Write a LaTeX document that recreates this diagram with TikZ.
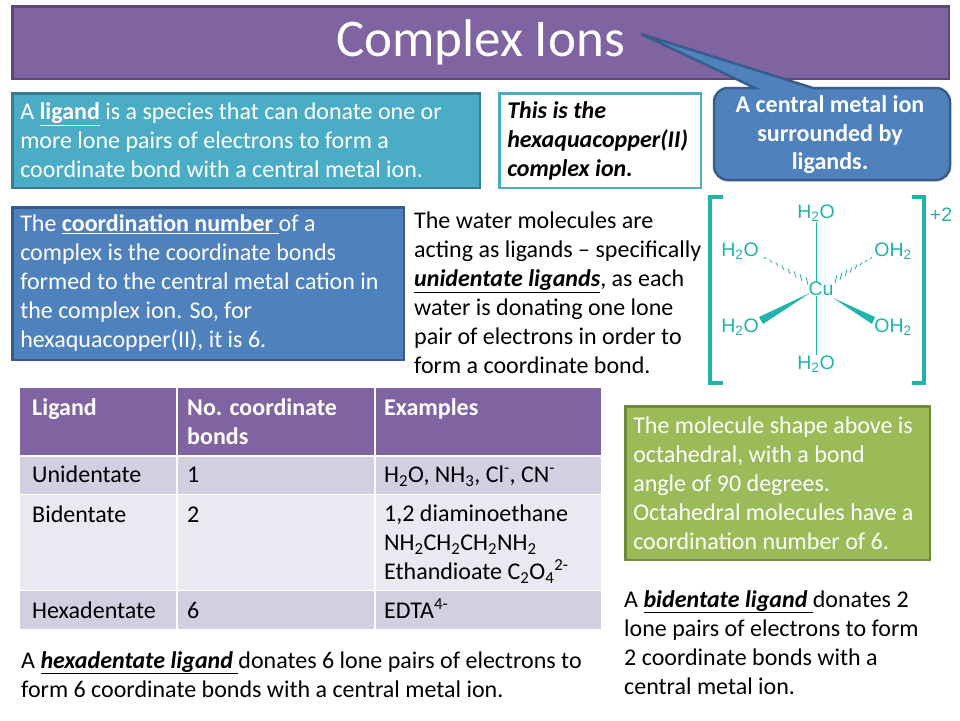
\documentclass[tikz,border=0pt]{standalone}
\usepackage{fontspec}
\setmainfont{Carlito}
\newfontfamily\molfont{Liberation Sans}
\newcommand{\lowtext}[1]{\textsubscript{#1}}
\newcommand{\hightext}[1]{\textsuperscript{#1}}
\newcommand{\keyterm}[1]{\underline{\textbf{\textit{#1}}}}
\definecolor{titlepurple}{HTML}{8064A2}
\definecolor{titleedge}{HTML}{5C4776}
\definecolor{tealfill}{HTML}{4BACC6}
\definecolor{tealedge}{HTML}{357D91}
\definecolor{bluefill}{HTML}{4F81BD}
\definecolor{blueedge}{HTML}{385D8A}
\definecolor{greenfill}{HTML}{9BBB59}
\definecolor{greenedge}{HTML}{71893F}
\definecolor{rowdark}{HTML}{D3CFE0}
\definecolor{rowlight}{HTML}{EAE8F0}
\definecolor{moltint}{HTML}{1FB3AC}
\tikzset{
  panel/.style={draw,line width=2.5pt,anchor=north west,align=flush left,inner xsep=8pt,inner ysep=0pt,
    font=\fontsize{24}{29}\selectfont,execute at begin node=\strut,execute at end node={\par\vspace{3.5pt}}},
  plain/.style={anchor=north west,align=left,inner sep=0pt,
    font=\fontsize{24}{29}\selectfont,execute at begin node=\strut},
  headcell/.style={plain,text=white,font=\fontsize{24}{29}\selectfont\bfseries},
  moltext/.style={text=moltint,inner sep=0pt,font=\fontsize{19.5}{22}\molfont},
  bond/.style={draw=moltint,line width=0.8pt}
}
\begin{document}
\begin{tikzpicture}[x=1pt,y=-1pt]
\useasboundingbox (0,0) rectangle (960,720);
\fill[white] (0,0) rectangle (960,720);

\node[draw=titleedge,fill=titlepurple,line width=2.5pt,anchor=north west,inner sep=0pt,text=white,minimum width=936.5pt,minimum height=72.5pt,
  font=\fontsize{53}{55}\selectfont] (title) at (11,5) {\raisebox{-9pt}{Complex Ions}};

\node[panel,fill=tealfill,draw=tealedge,text=white,text width=451.5pt,minimum height=94.5pt] (ligandbox) at (11,92)
  {A \underline{\textbf{ligand}} is a species that can donate one or\\more lone pairs of electrons to form a\\coordinate bond with a central metal ion.};
\node[panel,fill=white,draw=tealfill,text width=185.5pt,minimum height=94.5pt] (hexabox) at (498,92)
  {\textbf{\textit{This is the}}\\\textbf{\textit{hexaquacopper(II)}}\\\textbf{\textit{complex ion.}}};

\draw[fill=bluefill,draw=blueedge,line width=2.5pt] (641,34) -- (813,88) [rounded corners=14pt] -- (950,88) -- (950,180) -- (714,180) -- (714,88) [sharp corners] -- (755,88) -- cycle;
\node[text=white,align=center,inner sep=0pt,font=\fontsize{24}{28.5}\selectfont\bfseries] (metalion) at (830,135)
  {A central metal ion\\surrounded by\\ligands.};

\node[panel,fill=bluefill,draw=blueedge,text=white,text width=375.5pt,minimum height=152.5pt] (coordbox) at (11,206)
  {The \underline{\textbf{coordination number }}of a\\complex is the coordinate bonds\\formed to the central metal cation in\\the complex ion. So, for\\hexaquacopper(II), it is 6.};
\node[plain] (water) at (414,212)
  {The water molecules are\\acting as ligands -- specifically\\\keyterm{unidentate ligands}, as each\\water is donating one lone\\pair of electrons in order to\\form a coordinate bond.};

\draw[moltint,line width=3.4pt] (723,197) -- (710,197) -- (710,383) -- (723,383);
\draw[moltint,line width=3.4pt] (912,197) -- (924,197) -- (924,383) -- (912,383);
\node[moltext] (charge) at (941,215) {+2};
\node[moltext] (cu) at (821,289) {Cu};
\node[moltext] (otop) at (816,213) {H\lowtext{2}O};
\node[moltext] (obot) at (816,364) {H\lowtext{2}O};
\node[moltext] (oul) at (740,251) {H\lowtext{2}O};
\node[moltext] (our) at (893,251) {OH\lowtext{2}};
\node[moltext] (oll) at (740,327) {H\lowtext{2}O};
\node[moltext] (olr) at (893,327) {OH\lowtext{2}};
\draw[bond] (otop) -- (cu.north -| otop);
\draw[bond] (cu.south -| otop) -- (obot);
\fill[moltint] (810,293) -- (759,317) -- (763,324) -- cycle;
\fill[moltint] (833,298) -- (872,324) -- (875,317) -- cycle;
\foreach \t in {0,1,...,7}{
  \draw[moltint,line width=0.8pt] ({807-\t*6-1},{281-\t*3.3-(4-\t*0.45)}) -- ({807-\t*6+1},{281-\t*3.3+(4-\t*0.45)});
  \draw[moltint,line width=0.8pt] ({836+\t*5+1},{279-\t*3-(4-\t*0.45)}) -- ({836+\t*5-1},{279-\t*3+(4-\t*0.45)});
}

\fill[titlepurple] (20,388) rectangle (601,455);
\fill[rowdark] (20,457) rectangle (601,494);
\fill[rowlight] (20,495) rectangle (601,590);
\fill[rowdark] (20,591) rectangle (601,629);
\draw[white,line width=1.2pt] (177,388) -- (177,629);
\draw[white,line width=1.2pt] (375,388) -- (375,629);

\node[headcell] (hligand) at (32,395) {Ligand};
\node[headcell] (hbonds) at (187,398) {No. coordinate\\bonds};
\node[headcell] (hexamples) at (384,395) {Examples};
\node[plain] (uniname) at (32,462) {Unidentate};
\node[plain] (uninum) at (187,462) {1};
\node[plain] (uniex) at (384,462) {H\lowtext{2}O, NH\lowtext{3}, Cl\hightext{-}, CN\hightext{-}};
\node[plain] (biname) at (32,502) {Bidentate};
\node[plain] (binum) at (187,502) {2};
\node[plain] (biex) at (384,505) {1,2 diaminoethane\\NH\lowtext{2}CH\lowtext{2}CH\lowtext{2}NH\lowtext{2}\\Ethandioate C\lowtext{2}O\lowtext{4}\hightext{2-}};
\node[plain] (hexname) at (32,598) {Hexadentate};
\node[plain] (hexnum) at (187,598) {6};
\node[plain] (hexex) at (384,598) {EDTA\hightext{4-}};

\node[plain] (hexanote) at (21,651)
  {A \keyterm{hexadentate ligand }donates 6 lone pairs of electrons to\\form 6 coordinate bonds with a central metal ion.};

\node[panel,fill=greenfill,draw=greenedge,text=white,text width=288.5pt,minimum height=153.5pt] (shapebox) at (624,405)
  {The molecule shape above is\\octahedral, with a bond\\angle of 90 degrees.\\Octahedral molecules have a\\coordination number of 6.};
\node[plain] (binote) at (624,590)
  {A \keyterm{bidentate ligand }donates 2\\lone pairs of electrons to form\\2 coordinate bonds with a\\central metal ion.};
\end{tikzpicture}
\end{document}
